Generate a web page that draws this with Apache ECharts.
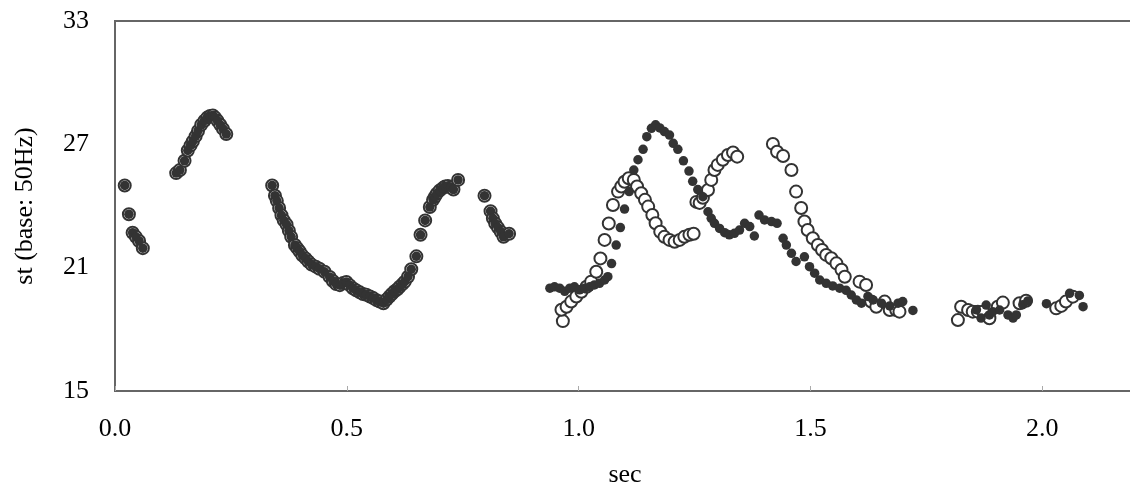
<!DOCTYPE html>
<html>
<head>
<meta charset="utf-8">
<script src="https://cdn.jsdelivr.net/npm/echarts@6/dist/echarts.min.js"></script>
<style>
  html, body { margin: 0; padding: 0; background: #fff; }
  #mainChart { width: 1130px; height: 486px; }
</style>
</head>
<body>
<div id="mainChart"></div>
<script>
// first part: both series lie on top of each other
var sharedPts = [
    [0.021, 25.0], [0.030, 23.6], [0.038, 22.7], [0.045, 22.5], [0.052, 22.3], [0.060, 21.95],
    [0.132, 25.6], [0.140, 25.75], [0.150, 26.2], [0.157, 26.7], [0.163, 26.95], [0.168, 27.15],
    [0.174, 27.4], [0.179, 27.65], [0.186, 27.95], [0.193, 28.15], [0.199, 28.3], [0.205, 28.38],
    [0.211, 28.4], [0.216, 28.3], [0.221, 28.15], [0.227, 27.95], [0.233, 27.75], [0.240, 27.5],
    [0.339, 25.0], [0.345, 24.5], [0.349, 24.25], [0.354, 23.9], [0.359, 23.55], [0.364, 23.3],
    [0.370, 23.1], [0.375, 22.8], [0.380, 22.5], [0.388, 22.1], [0.393, 21.95], [0.398, 21.8],
    [0.404, 21.6], [0.411, 21.45], [0.417, 21.3], [0.424, 21.15], [0.433, 21.05], [0.441, 20.95],
    [0.452, 20.8], [0.463, 20.55], [0.470, 20.35], [0.477, 20.2], [0.485, 20.15], [0.492, 20.25],
    [0.499, 20.3], [0.506, 20.15], [0.513, 20.0], [0.520, 19.9], [0.528, 19.8], [0.535, 19.72],
    [0.542, 19.68], [0.550, 19.6], [0.557, 19.52], [0.564, 19.42], [0.571, 19.35], [0.579, 19.27],
    [0.586, 19.45], [0.592, 19.6], [0.597, 19.72], [0.603, 19.85], [0.609, 19.95], [0.614, 20.07],
    [0.620, 20.2], [0.625, 20.32], [0.632, 20.56], [0.639, 20.92], [0.650, 21.55], [0.659, 22.6],
    [0.669, 23.3], [0.679, 23.95], [0.686, 24.3], [0.690, 24.45], [0.694, 24.6], [0.700, 24.75],
    [0.707, 24.87], [0.712, 24.95], [0.718, 24.97], [0.724, 24.9], [0.730, 24.8], [0.740, 25.27],
    [0.797, 24.5], [0.810, 23.75], [0.815, 23.4], [0.820, 23.15], [0.826, 22.95], [0.832, 22.75],
    [0.838, 22.5], [0.850, 22.65]
];

// filled dots, second part
var dotPts = [
    [0.938, 20.0], [0.948, 20.07], [0.959, 20.0], [0.970, 19.85], [0.981, 20.0], [0.991, 20.07],
    [1.002, 19.92], [1.013, 20.0], [1.024, 20.07], [1.034, 20.16], [1.045, 20.24], [1.056, 20.4],
    [1.063, 20.56], [1.071, 21.2], [1.081, 22.1], [1.090, 22.95], [1.099, 23.85], [1.109, 24.7],
    [1.119, 25.75], [1.128, 26.25], [1.139, 26.76], [1.147, 27.37], [1.157, 27.78], [1.166, 27.95],
    [1.175, 27.8], [1.185, 27.62], [1.196, 27.45], [1.204, 27.05], [1.214, 26.76], [1.226, 26.2],
    [1.238, 25.7], [1.246, 25.2], [1.257, 24.8], [1.268, 24.45], [1.279, 23.72], [1.286, 23.4],
    [1.293, 23.16], [1.304, 22.91], [1.315, 22.7], [1.325, 22.6], [1.336, 22.67], [1.347, 22.83],
    [1.358, 23.16], [1.369, 23.0], [1.379, 22.54], [1.389, 23.56], [1.401, 23.32], [1.416, 23.24],
    [1.428, 23.16], [1.441, 22.43], [1.448, 22.1], [1.459, 21.7], [1.469, 21.3], [1.487, 21.53],
    [1.498, 21.05], [1.509, 20.73], [1.520, 20.4], [1.534, 20.24], [1.548, 20.11], [1.563, 20.0],
    [1.577, 19.9], [1.588, 19.67], [1.599, 19.43], [1.610, 19.27], [1.624, 19.6], [1.635, 19.43],
    [1.653, 19.27], [1.671, 19.14], [1.689, 19.27], [1.699, 19.35], [1.721, 18.92],
    [1.858, 18.95], [1.868, 18.55], [1.879, 19.18], [1.886, 18.7], [1.893, 18.86], [1.908, 18.94],
    [1.926, 18.7], [1.937, 18.55], [1.944, 18.7], [1.958, 19.2], [1.969, 19.38], [2.009, 19.25],
    [2.059, 19.75], [2.080, 19.65], [2.088, 19.1]
];

// open circles, second part
var ringPts = [
    [0.966, 18.4], [0.963, 18.95], [0.974, 19.1], [0.984, 19.35], [0.995, 19.6], [1.006, 19.83],
    [1.017, 20.07], [1.027, 20.32], [1.038, 20.8], [1.047, 21.45], [1.056, 22.35], [1.065, 23.15],
    [1.074, 24.05], [1.085, 24.7], [1.092, 24.95], [1.099, 25.18], [1.108, 25.35], [1.119, 25.27],
    [1.126, 24.95], [1.135, 24.62], [1.143, 24.3], [1.150, 23.97], [1.159, 23.56], [1.166, 23.16],
    [1.176, 22.75], [1.185, 22.5], [1.196, 22.35], [1.207, 22.26], [1.218, 22.35], [1.228, 22.5],
    [1.239, 22.6], [1.248, 22.65],
    [1.254, 24.2], [1.261, 24.15], [1.268, 24.4], [1.279, 24.78], [1.286, 25.27], [1.293, 25.75],
    [1.300, 26.0], [1.311, 26.25], [1.322, 26.48], [1.333, 26.6], [1.342, 26.4],
    [1.419, 27.02], [1.428, 26.64], [1.441, 26.43], [1.459, 25.75], [1.469, 24.7], [1.480, 23.9],
    [1.487, 23.25], [1.494, 22.83], [1.505, 22.43], [1.516, 22.1], [1.525, 21.86], [1.534, 21.62],
    [1.545, 21.46], [1.556, 21.21], [1.567, 20.9], [1.574, 20.56], [1.606, 20.32], [1.620, 20.16],
    [1.631, 19.35], [1.642, 19.1], [1.660, 19.35], [1.671, 18.94], [1.685, 18.94], [1.692, 18.86],
    [1.818, 18.45], [1.825, 19.1], [1.840, 18.94], [1.850, 18.86], [1.861, 18.86], [1.872, 18.86],
    [1.886, 18.54], [1.904, 19.1], [1.915, 19.3], [1.951, 19.27], [1.965, 19.39], [2.030, 19.02],
    [2.041, 19.14], [2.051, 19.35], [2.066, 19.59]
];

var xTicks = [0.0, 0.5, 1.0, 1.5, 2.0];
var yTicks = [15, 21, 27, 33];

var font = '"Liberation Serif", "Times New Roman", serif';
var chart = echarts.init(document.getElementById("mainChart"));
chart.setOption({
    backgroundColor: "#fff",
    animation: false,
    grid: {
        left: 115, right: -5, top: 21, bottom: 95,
        show: true, borderColor: "#666", borderWidth: 2,
        containLabel: false, outerBoundsMode: "none"
    },
    xAxis: {
        type: "value",
        min: xTicks[0], max: 2.2, interval: 0.5,
        name: "sec", nameLocation: "middle", nameGap: 71,
        nameTextStyle: { color: "#000", fontSize: 26, fontFamily: font },
        splitLine: { show: false },
        axisLine: { lineStyle: { color: "#666", width: 2 } },
        axisTick: { inside: true, length: 5, lineStyle: { color: "#aaa", width: 1 } },
        axisLabel: {
            margin: 25, color: "#000", fontSize: 26, fontFamily: font, showMaxLabel: false,
            formatter: function (v) { return v.toFixed(1); }
        }
    },
    yAxis: {
        type: "value",
        min: yTicks[0], max: yTicks[yTicks.length - 1], interval: 6,
        name: "st (base: 50Hz)", nameLocation: "middle", nameGap: 77,
        nameTextStyle: { color: "#000", fontSize: 26, fontFamily: font },
        splitLine: { show: false },
        axisLine: { show: true, lineStyle: { color: "#666", width: 2 } },
        axisTick: { show: false },
        axisLabel: { margin: 26, color: "#000", fontSize: 26, fontFamily: font }
    },
    series: [{
        name: "rings", type: "scatter", silent: true,
        symbol: "circle", symbolSize: 12,
        itemStyle: { color: "#fff", borderColor: "#333", borderWidth: 2, opacity: 1 },
        data: sharedPts.concat(ringPts)
    }, {
        name: "dots", type: "scatter", silent: true,
        symbol: "circle", symbolSize: 9.5,
        itemStyle: { color: "#333", opacity: 1 },
        data: sharedPts.concat(dotPts)
    }]
});
</script>
</body>
</html>
